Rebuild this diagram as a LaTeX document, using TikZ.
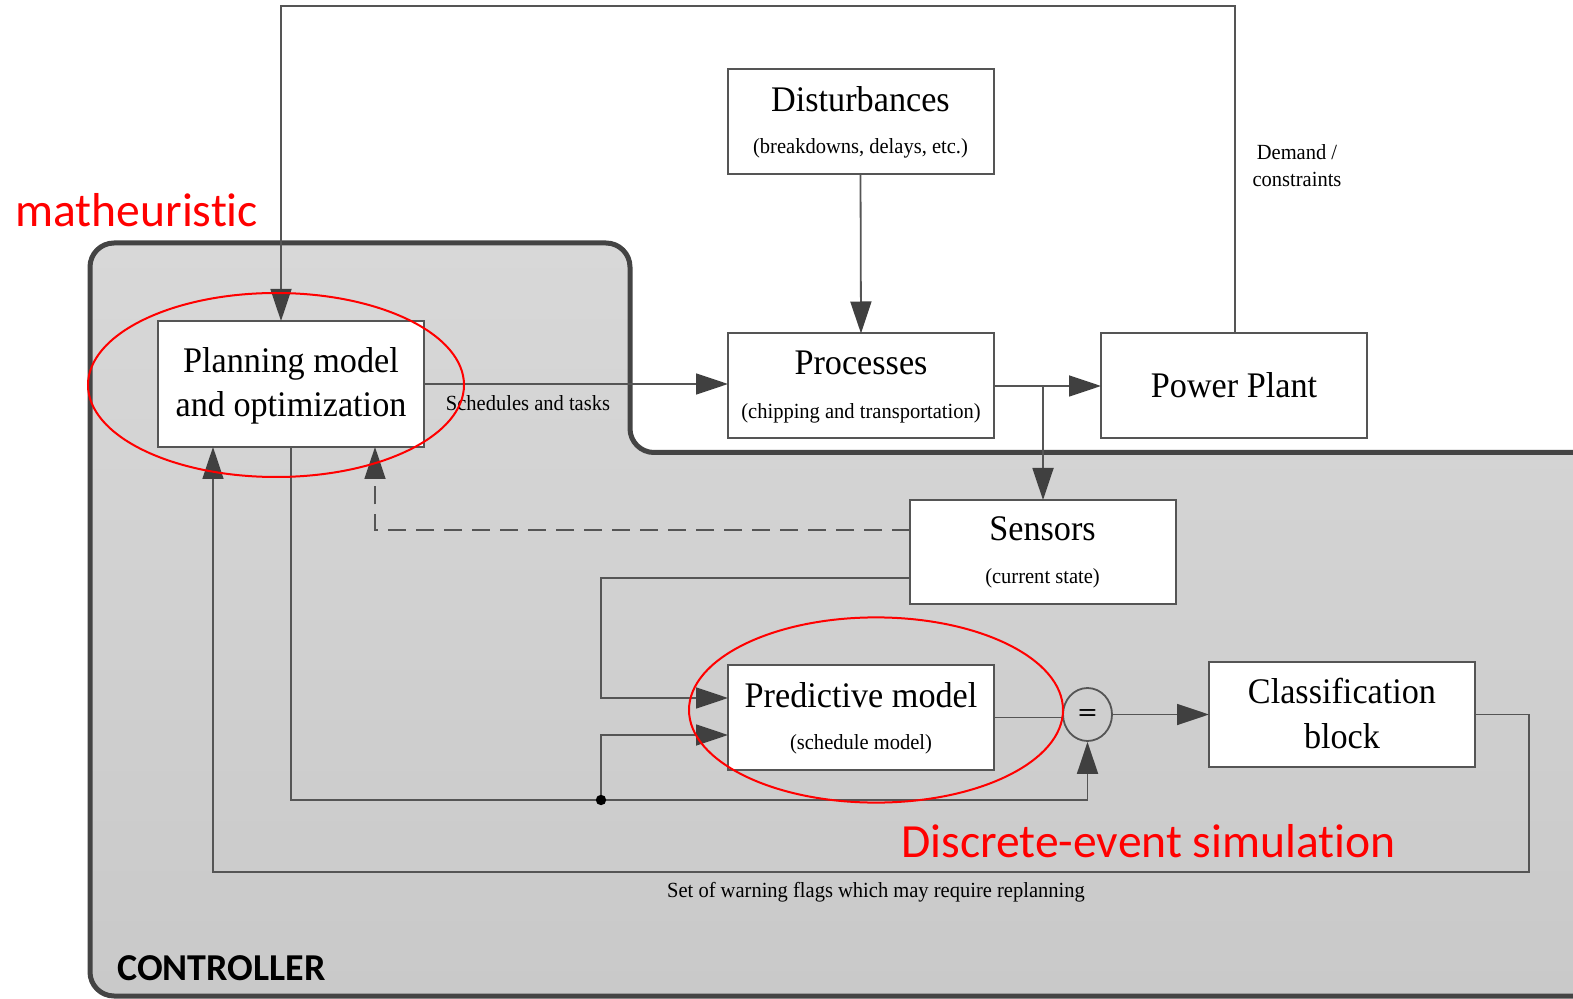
\documentclass[tikz,border=0pt]{standalone}
\usepackage{fontspec}
\usetikzlibrary{arrows.meta,shapes.geometric,calc}
\newfontfamily\boxfont{Liberation Serif}[FakeStretch=0.95]
\newfontfamily\notefont{Carlito}[RawFeature=-liga]
\definecolor{linec}{HTML}{555555}
\definecolor{tipc}{HTML}{404040}
\definecolor{ctrlline}{HTML}{444444}
\definecolor{ctrltop}{HTML}{D8D8D8}
\definecolor{ctrlbot}{HTML}{C9C9C9}
\definecolor{notered}{HTML}{FF0000}
\tikzset{
  block/.style={draw=linec, line width=1pt, fill=white, inner sep=0pt, outer sep=0pt,
    minimum width=133pt, minimum height=52.5pt},
  bigtxt/.style={font=\boxfont\fontsize{18}{20}\selectfont, anchor=base, inner sep=0pt},
  smalltxt/.style={font=\boxfont\fontsize{10.8}{12}\selectfont, anchor=base, inner sep=0pt},
  conn/.style={draw=linec, line width=0.9pt},
  arr/.style={conn, -{Triangle[length=16pt,width=10.5pt,color=tipc]}},
  feedback/.style={arr, dash pattern=on 9pt off 5pt},
  redring/.style={draw=notered, line width=1pt},
  redtxt/.style={font=\notefont\fontsize{23.8}{26}\selectfont, text=notered, anchor=base west, inner sep=0pt}
}
\begin{document}
\begin{tikzpicture}[x=0.5pt,y=-0.5pt]
\useasboundingbox (0,0) rectangle (1573,999);
\clip (0,0) rectangle (1573,999);
\fill[white] (0,0) rectangle (1573,999);

% controller region
\path[draw=ctrlline, line width=2.5pt, rounded corners=12pt, top color=ctrltop, bottom color=ctrlbot]
  (1640,996) -- (90,996) -- (90,243) -- (630,243) -- (630,452.5) -- (1640,452.5) -- cycle;

% blocks
\node[block] (dist) at (860.5,121.5) {};
\node[block] (proc) at (861,386) {};
\node[block] (pp) at (1234,386) {};
\node[block, minimum height=63pt] (plan) at (291,384) {};
\node[block, minimum height=52pt] (sens) at (1042.5,552) {};
\node[block] (pred) at (861,717.5) {};
\node[block] (cls) at (1342,714.5) {};
\node[draw=linec, line width=0.9pt, fill=none, ellipse, inner sep=0pt,
      minimum width=24.5pt, minimum height=26.5pt] (eq) at (1087.5,714.5) {};

% block texts
\node[bigtxt] (distT) at (860.5,112) {Disturbances};
\node[smalltxt] (distS) at (860.5,154) {(breakdowns, delays, etc.)};
\node[bigtxt] (procT) at (861,375) {Processes};
\node[smalltxt] (procS) at (861,419) {(chipping and transportation)};
\node[bigtxt] (ppT) at (1234,398) {Power Plant};
\node[bigtxt] (planT1) at (291,373) {Planning model};
\node[bigtxt] (planT2) at (291,417) {and optimization};
\node[bigtxt] (sensT) at (1042.5,540) {Sensors};
\node[smalltxt] (sensS) at (1042.5,583) {(current state)};
\node[bigtxt] (predT) at (861,707) {Predictive model};
\node[smalltxt] (predS) at (861,749) {(schedule model)};
\node[bigtxt] (clsT1) at (1342,703) {Classification};
\node[bigtxt] (clsT2) at (1342,748) {block};
\node[font=\sffamily\bfseries\fontsize{11}{12}\selectfont, inner sep=0pt] (eqT) at (eq) {=};

% routing points
\coordinate (topR) at (1235,6);
\coordinate (topL) at (281,6);
\coordinate (br) at (1043,386);
\coordinate (dA) at (375,530);
\coordinate (sB) at (601,578);
\coordinate (dot) at (601,800);
\coordinate (dUp) at (601,735);
\coordinate (fR) at (1529,872);
\coordinate (fL) at (213,872);

% connectors
\draw[arr] (pp.north -| topR) -- (topR) -- (topL) -- (topL |- plan.north);
\draw[arr] (dist.south) -- (proc.north);
\draw[arr] (plan.east) -- (plan.east -| proc.west);
\draw[arr] (proc.east) -- (pp.west);
\draw[arr] (br) -- (br |- sens.north);
\draw[feedback] (sens.west |- dA) -- (dA) -- (dA |- plan.south);
\draw[arr] (sens.west |- sB) -- (sB) -- (sB |- 0,698) -- (pred.west |- 0,698);
\draw[arr] (plan.south) -- (plan.south |- dot) -- (dot) -- (dot -| eq.south) -- (eq.south);
\draw[arr] (dot) -- (dUp) -- (pred.west |- dUp);
\draw[conn] (pred.east) -- (pred.east -| eq.west);
\draw[arr] (eq.east) -- (cls.west);
\draw[arr] (cls.east) -| (fR) -- (fL) -- (fL |- plan.south);
\fill[black] (dot) circle (2.6pt);

% connector labels
\node[smalltxt] (schedL) at (528,411) {Schedules and tasks};
\node[smalltxt] (demL1) at (1297,160) {Demand /};
\node[smalltxt] (demL2) at (1297,187) {constraints};
\node[smalltxt] (flagL) at (876,897) {Set of warning flags which may require replanning};
\node[font=\notefont\bfseries\fontsize{19}{21}\selectfont, anchor=base west, inner sep=0pt] (ctrlL) at (117,980) {CONTROLLER};

% highlighted parts
\draw[redring] (276,385) ellipse [x radius=94pt, y radius=46pt];
\draw[redring] (876,710) ellipse [x radius=93.5pt, y radius=46.3pt];
\node[redtxt] (mathL) at (15,227) {matheuristic};
\node[redtxt] (desL) at (901,857) {Discrete-event simulation};
\end{tikzpicture}
\end{document}
